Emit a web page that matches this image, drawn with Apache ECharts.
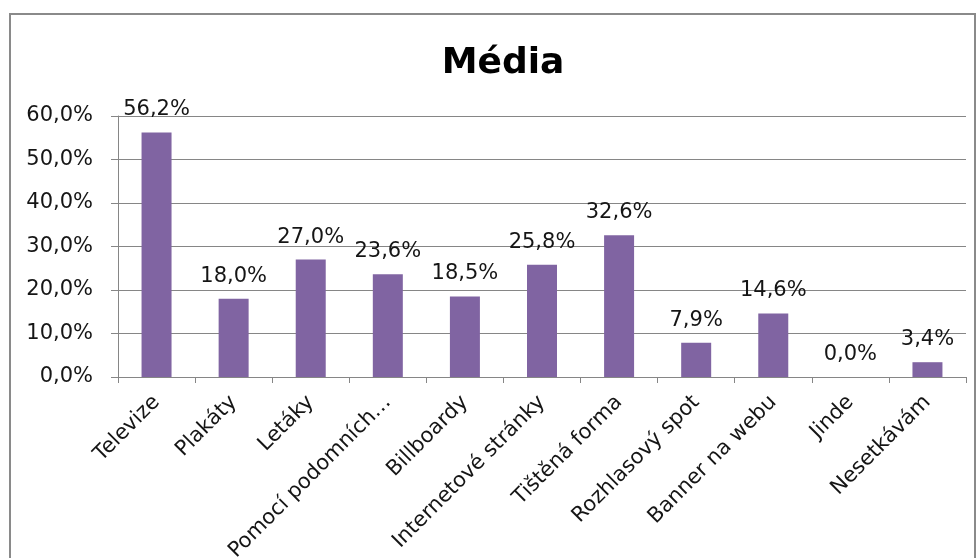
<!DOCTYPE html>
<html>
<head>
<meta charset="utf-8">
<script src="https://cdn.jsdelivr.net/npm/echarts@6/dist/echarts.min.js"></script>
<style>
html,body{margin:0;padding:0;background:#fff;}
#chart{width:980px;height:558px;}
</style>
</head>
<body>
<div id="chart"></div>
<script>
const titleText = 'Média';
const categories = ['Televize','Plakáty','Letáky','Pomocí podomních…','Billboardy','Internetové stránky','Tištěná forma','Rozhlasový spot','Banner na webu','Jinde','Nesetkávám'];
const values = [56.2, 18.0, 27.0, 23.6, 18.5, 25.8, 32.6, 7.9, 14.6, 0.0, 3.4];
const yTicks = [0, 10, 20, 30, 40, 50, 60];

const fmt = v => v.toFixed(1).replace('.', ',') + '%';
const font = 'DejaVu Sans';
const gray = '#868686';

const chart = echarts.init(document.getElementById('chart'));
chart.setOption({
  backgroundColor: '#ffffff',
  animation: false,
  graphic: [{
    type: 'rect',
    shape: { x: 10, y: 14, width: 965, height: 560 },
    style: { fill: 'none', stroke: '#8a8a8a', lineWidth: 2 },
    silent: true
  }],
  title: {
    text: titleText,
    left: 498,
    textAlign: 'center',
    top: 41,
    textStyle: { fontFamily: font, fontWeight: 'bold', fontSize: 36, color: '#000' }
  },
  grid: { left: 118, right: 14, top: 116, bottom: 181, containLabel: false, outerBoundsMode: 'none' },
  xAxis: {
    type: 'category',
    data: categories,
    axisLine: { lineStyle: { color: gray, width: 1 } },
    axisTick: { show: true, alignWithLabel: false, length: 6, lineStyle: { color: gray } },
    axisLabel: {
      rotate: 45, interval: 0, margin: 22,
      fontFamily: font, fontSize: 21, color: '#151515'
    }
  },
  yAxis: {
    type: 'value',
    min: yTicks[0], max: yTicks[yTicks.length - 1], interval: 10,
    axisLine: { show: true, lineStyle: { color: gray, width: 1 } },
    axisTick: { show: true, inside: false, length: 7, lineStyle: { color: gray } },
    splitLine: { show: true, lineStyle: { color: gray, width: 1 } },
    axisLabel: {
      margin: 25, fontFamily: font, fontSize: 21, color: '#151515',
      formatter: v => fmt(v)
    }
  },
  series: [{
    type: 'bar',
    data: values,
    barWidth: 30,
    itemStyle: { color: '#8064A2' },
    label: {
      show: true, position: 'top', distance: 12,
      fontFamily: font, fontSize: 21, color: '#151515',
      formatter: p => fmt(p.value)
    }
  }]
});
</script>
</body>
</html>
